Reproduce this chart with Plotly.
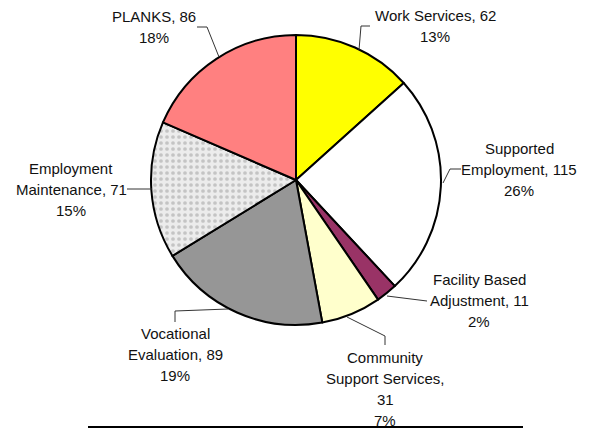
import plotly.graph_objects as go

W, H = 594, 429
OFF = 8  # page body margin in the browser

# ---- data ----
names = ["Work Services", "Supported\nEmployment", "Facility Based\nAdjustment",
         "Community\nSupport Services", "Vocational\nEvaluation",
         "Employment\nMaintenance", "PLANKS"]
values = [62, 115, 11, 31, 89, 71, 86]
pct_labels = ["13%", "26%", "2%", "7%", "19%", "15%", "18%"]
value_sep = [", ", ", ", ", ", ",\n", ", ", ", ", ", "]
colors = ["#FFFF00", "#FFFFFF", "#993366", "#FFFFCC", "#969696", "#E6E6E6", "#FF8080"]

# ---- layout of labels (window pixel positions of first line centre) ----
label_pos = [(435, 15), (519, 148), (479, 279), (385, 357), (175, 333), (71, 168), (154, 16)]
leaders = [
    [(370, 26), (361, 26), (359, 50)],
    [(461, 169), (450, 169), (443, 183)],
    [(427, 301), (387, 296)],
    [(385, 345), (385, 336), (347, 317)],
    [(175, 322), (175, 311), (228, 309)],
    [(127, 189), (152, 189)],
    [(197, 27), (207, 27), (219, 57)],
]
LINE_H = 21.3

def px(x):
    return (x - OFF) / W

def py(y):
    return 1 - (y - OFF) / H

fig = go.Figure()
fig.add_trace(go.Pie(
    labels=[n.replace("\n", " ") for n in names],
    values=values,
    sort=False,
    direction="clockwise",
    rotation=0,
    textinfo="none",
    hoverinfo="label+value+percent",
    marker=dict(
        colors=colors,
        line=dict(color="black", width=2),
        pattern=dict(
            shape=["", "", "", "", "", ".", ""],
            fgcolor="#C4C4C4",
            bgcolor="#ECECEC",
            size=6,
            solidity=0.3,
        ),
    ),
    domain=dict(x=[px(151), px(441)], y=[py(325), py(35)]),
    showlegend=False,
))

annotations = []
for name, val, pct, sep, (cx, cy) in zip(names, values, pct_labels, value_sep, label_pos):
    text = f"{name}{sep}{val}\n{pct}"
    for i, line in enumerate(text.split("\n")):
        annotations.append(dict(
            x=px(cx), y=py(cy + i * LINE_H), xref="paper", yref="paper",
            text=line, showarrow=False, xanchor="center", yanchor="middle",
            font=dict(family="Liberation Sans, Arial", size=15, color="#111111"),
        ))

shapes = []
for pts in leaders:
    path = "M " + " L ".join(f"{px(x)},{py(y)}" for x, y in pts)
    shapes.append(dict(type="path", path=path, xref="paper", yref="paper",
                       line=dict(color="#333333", width=1)))
shapes.append(dict(type="line", x0=px(88), x1=px(523), y0=py(427), y1=py(427),
                   xref="paper", yref="paper", line=dict(color="black", width=2)))

fig.update_layout(
    width=W, height=H,
    margin=dict(l=0, r=0, t=0, b=0),
    paper_bgcolor="white",
    plot_bgcolor="white",
    annotations=annotations,
    shapes=shapes,
)

fig.write_html("out.html")
